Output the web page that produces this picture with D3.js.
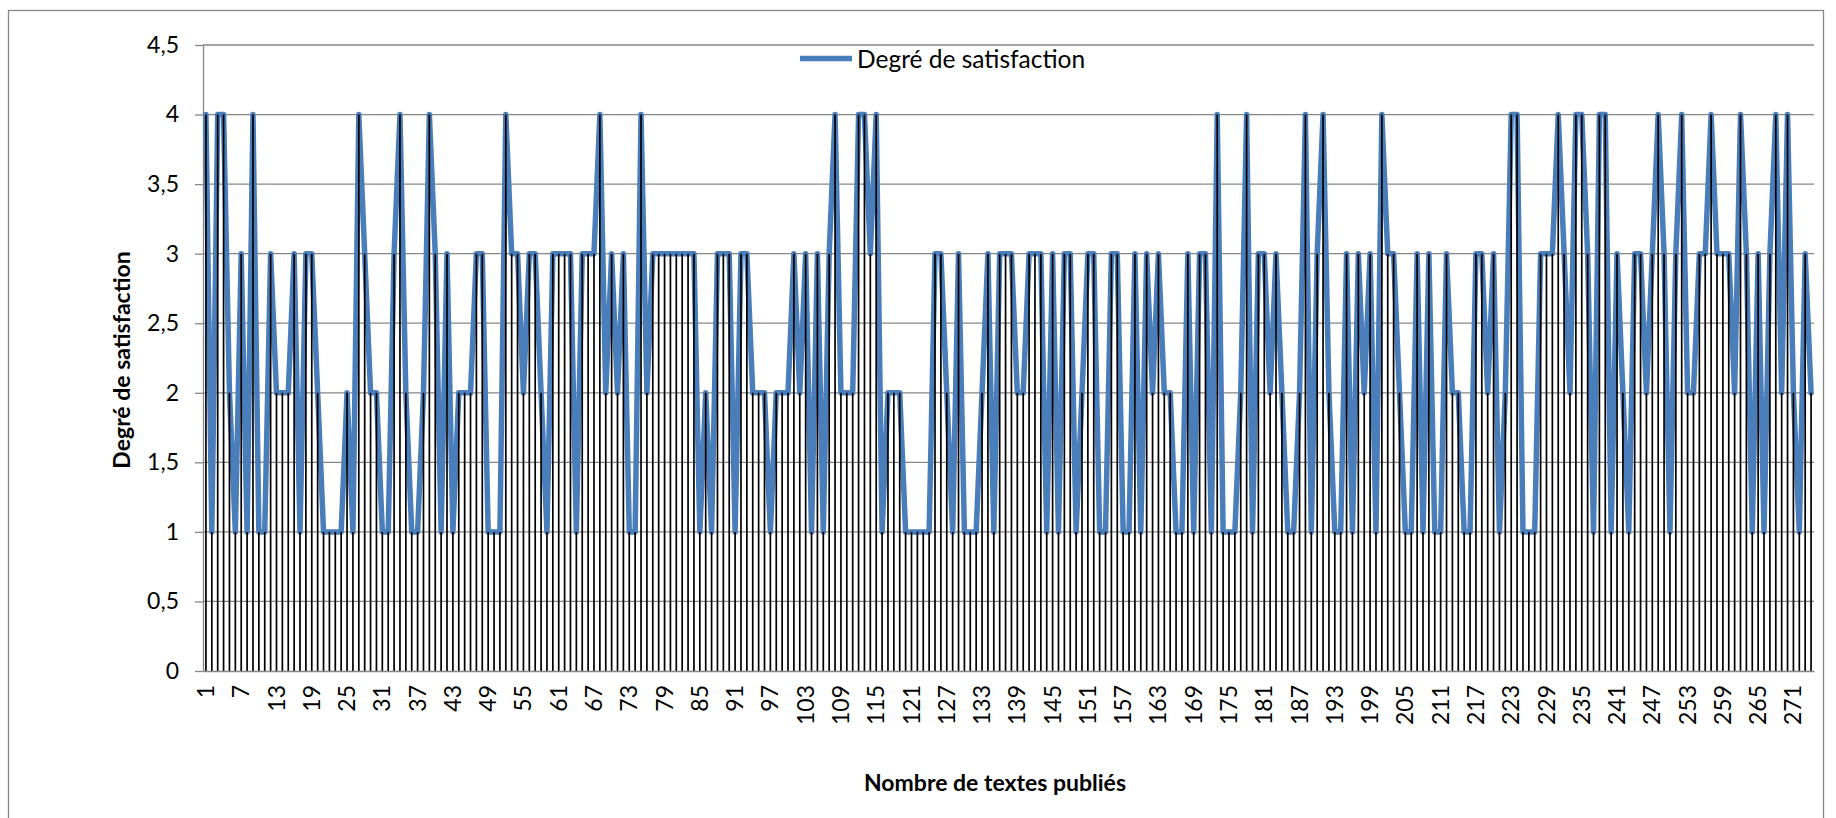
<!DOCTYPE html>
<html><head><meta charset="utf-8">
<script src="https://cdn.jsdelivr.net/npm/d3@7/dist/d3.min.js"></script>
<style>
body{margin:0;background:#fff}
svg{display:block}
text{font-family:Lato,"Open Sans",sans-serif;fill:#000}
</style>
</head><body>
<svg id="chart" width="1836" height="818"></svg>
<script>
// ---- data ----
const categories = d3.range(1, 275);
const values = [
  4,1,4,4,2,1,3,1,4,1,1,3,2,2,2,3,1,3,3,2,1,1,1,1,
  2,1,4,3,2,2,1,1,3,4,2,1,1,2,4,3,1,3,1,2,2,2,3,3,1,1,
  1,4,3,3,2,3,3,2,1,3,3,3,3,1,3,3,3,4,2,3,2,3,1,1,4,
  2,3,3,3,3,3,3,3,3,1,2,1,3,3,3,1,3,3,2,2,2,1,2,2,2,3,
  2,3,1,3,1,3,4,2,2,2,4,4,3,4,1,2,2,2,1,1,1,1,1,3,3,
  2,1,3,1,1,1,2,3,1,3,3,3,2,2,3,3,3,1,3,1,3,3,1,2,3,3,
  1,1,3,3,1,1,3,1,3,2,3,2,2,1,1,3,1,3,3,1,4,1,1,1,2,
  4,1,3,3,2,3,2,1,1,2,4,1,3,4,2,1,1,3,1,3,2,3,1,4,3,3,
  2,1,1,3,1,3,1,1,3,2,2,1,1,3,3,2,3,1,2,4,4,1,1,1,3,3,
  3,4,3,2,4,4,3,1,4,4,1,3,2,1,3,3,2,3,4,3,1,3,4,2,2,
  3,3,4,3,3,3,2,4,3,1,3,1,3,4,2,4,2,1,3,2
];
const xTickLabels = categories.filter(c => (c - 1) % 6 === 0);
const yTicks = [0, 0.5, 1, 1.5, 2, 2.5, 3, 3.5, 4, 4.5];
const seriesName = "Degré de satisfaction";
const yTitle = "Degré de satisfaction";
const xTitle = "Nombre de textes publiés";

// ---- layout ----
const W = 1836, H = 818;
const plot = {left: 203, right: 1814, top: 45, bottom: 671};
const blue = "#4A7EBB", grid = "#868686";
const fs = 23;

const svg = d3.select("#chart");
svg.append("rect").attr("width", W).attr("height", H).attr("fill", "#fff");
svg.append("rect").attr("x", 8.5).attr("y", 10.5).attr("width", 1815).attr("height", 830)
  .attr("fill", "none").attr("stroke", grid).attr("stroke-width", 1.3);

const x = d3.scaleBand().domain(categories).range([plot.left, plot.right]).padding(0);
const cx = c => x(c) + x.bandwidth() / 2;
const y = d3.scaleLinear().domain([0, 4.5]).range([plot.bottom, plot.top]);

const loc = d3.formatLocale({decimal: ",", thousands: " ", grouping: [3], currency: ["", "€"]});
const fmt = loc.format("~g");

// gridlines
svg.append("g").selectAll("line").data(yTicks.filter(t => t > 0)).join("line")
  .attr("x1", plot.left).attr("x2", plot.right)
  .attr("y1", d => y(d)).attr("y2", d => y(d))
  .attr("stroke", grid).attr("stroke-width", 1.3);

// y axis
const yAxis = svg.append("g").attr("transform", `translate(${plot.left},0)`)
  .call(d3.axisLeft(y).tickValues(yTicks).tickFormat(fmt).tickSize(8).tickSizeOuter(0).tickPadding(16));
yAxis.select(".domain").attr("stroke", grid).attr("stroke-width", 1.3);
yAxis.selectAll(".tick line").attr("stroke", grid).attr("stroke-width", 1.3);
yAxis.selectAll(".tick text").style("font-size", fs + "px").style("font-family", "Lato");

// blue series line
const line = d3.line().x((d, i) => cx(categories[i])).y(d => y(d));
svg.append("path").datum(values).attr("d", line)
  .attr("fill", "none").attr("stroke", blue).attr("stroke-width", 5.5)
  .attr("stroke-linejoin", "round").attr("stroke-linecap", "round");

// drop lines
svg.append("g").selectAll("line").data(values).join("line")
  .attr("x1", (d, i) => cx(categories[i])).attr("x2", (d, i) => cx(categories[i]))
  .attr("y1", d => y(d)).attr("y2", y(0))
  .attr("stroke", "#000").attr("stroke-width", 1.7);

// x axis
const xAxis = svg.append("g").attr("transform", `translate(0,${plot.bottom})`)
  .call(d3.axisBottom(x).tickValues(xTickLabels).tickSize(0).tickSizeOuter(0));
xAxis.select(".domain").attr("stroke", grid).attr("stroke-width", 1.3);
xAxis.selectAll(".tick text")
  .attr("transform", "rotate(-90)").attr("x", -14).attr("y", 0).attr("dy", "0.35em")
  .style("text-anchor", "end").style("font-size", fs + "px").style("font-family", "Lato");

// axis titles
svg.append("text").attr("transform", `translate(121,${(plot.top + plot.bottom) / 2 + 2}) rotate(-90)`)
  .attr("text-anchor", "middle").attr("dominant-baseline", "central")
  .style("font-weight", "bold").style("font-size", fs + "px").text(yTitle);
svg.append("text").attr("x", 995).attr("y", 782)
  .attr("text-anchor", "middle").attr("dominant-baseline", "central")
  .style("font-weight", "bold").style("font-size", fs + "px").text(xTitle);

// legend
const lg = svg.append("g");
lg.append("line").attr("x1", 800).attr("x2", 852).attr("y1", 58.5).attr("y2", 58.5)
  .attr("stroke", blue).attr("stroke-width", 5.5);
lg.append("text").attr("x", 857).attr("y", 58.5).attr("dominant-baseline", "central")
  .style("font-size", "24.5px").text(seriesName);
</script>
</body></html>
